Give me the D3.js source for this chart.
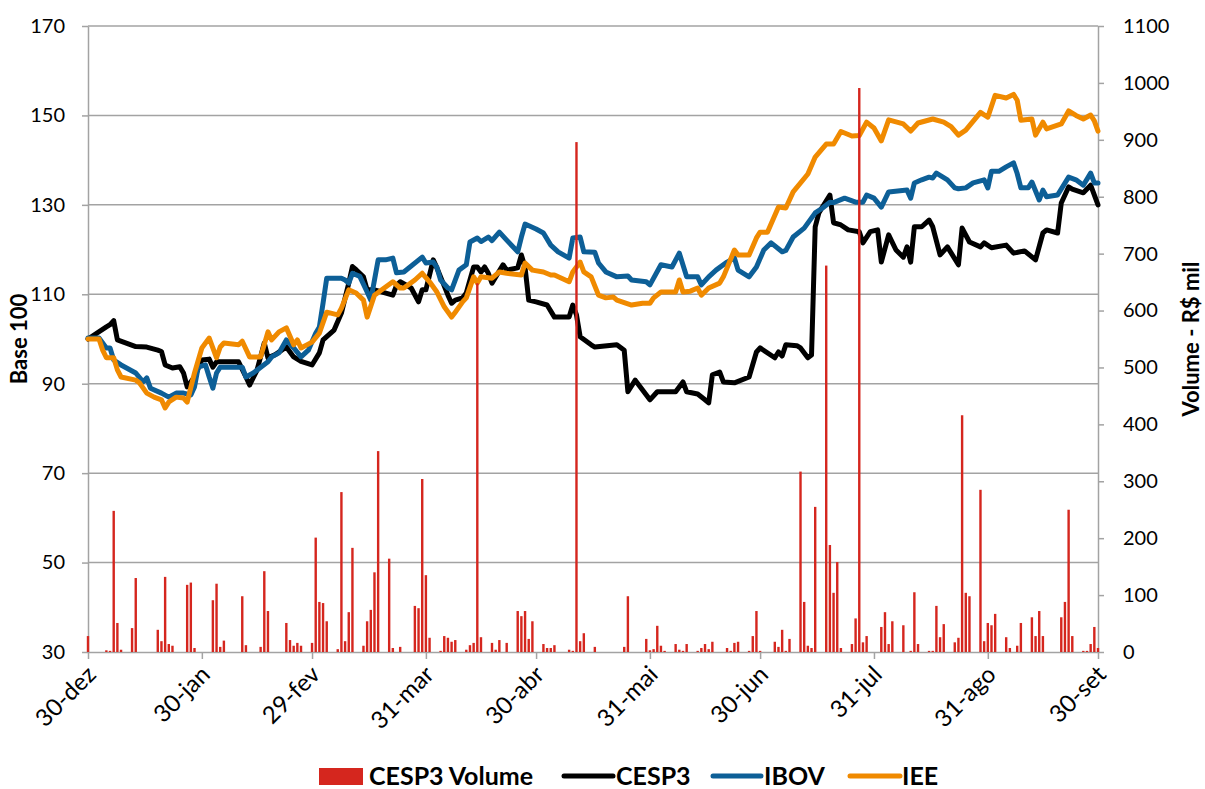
<!DOCTYPE html>
<html><head><meta charset="utf-8">
<script src="https://cdn.jsdelivr.net/npm/d3@7"></script>
<style>
body{margin:0;background:#fff;}
text{font-family:Lato,"Liberation Sans",sans-serif;}
</style>
</head><body>
<svg id="chart" width="1205" height="789"></svg>
<script>
// ---------- DATA ----------
const startDate = "2015-12-30";
const endDate = "2016-09-30";
const xTickDates = ["2015-12-30","2016-01-30","2016-02-29","2016-03-31","2016-04-30","2016-05-31","2016-06-30","2016-07-31","2016-08-31","2016-09-30"];
const xTickLabels = ["30-dez","30-jan","29-fev","31-mar","30-abr","31-mai","30-jun","31-jul","31-ago","30-set"];
const leftTicks = [30,50,70,90,110,130,150,170];
const rightTicks = [0,100,200,300,400,500,600,700,800,900,1000,1100];
const seriesNames = ["CESP3 Volume","CESP3","IBOV","IEE"];

// [days after 30-dez-2015, R$ mil]
const cesp3Volume = [[0,28],[5,3],[6,2],[7,248],[8,51],[9,4],[12,42],[13,130],[19,39],[20,19],[21,132],[22,14],[23,11],[27,118],[28,122],[29,7],[34,91],[35,120],[36,9],[37,20],[42,98],[43,12],[47,9],[48,142],[49,72],[54,51],[55,21],[56,11],[57,16],[58,11],[61,16],[62,201],[63,88],[64,86],[65,54],[68,5],[69,281],[70,19],[71,70],[72,183],[75,11],[76,54],[77,74],[78,140],[79,353],[82,164],[83,7],[85,9],[89,81],[90,77],[91,304],[92,135],[93,25],[96,2],[97,28],[98,25],[99,18],[100,21],[103,4],[104,12],[105,16],[106,648],[107,26],[110,16],[111,4],[112,21],[114,16],[117,72],[118,63],[119,72],[120,23],[121,54],[124,14],[125,7],[126,7],[127,12],[131,4],[132,2],[133,896],[134,19],[135,33],[138,9],[146,9],[147,98],[152,23],[153,3],[154,5],[155,46],[156,11],[157,2],[160,14],[161,4],[162,2],[163,14],[166,2],[167,7],[168,14],[169,5],[170,18],[174,7],[175,2],[176,16],[177,18],[180,2],[181,28],[182,72],[183,2],[187,18],[188,9],[189,39],[190,2],[191,23],[194,317],[195,88],[196,11],[197,7],[198,255],[201,679],[202,188],[203,104],[204,158],[205,7],[208,14],[209,59],[210,991],[211,17],[212,28],[216,44],[217,70],[218,14],[219,54],[222,47],[224,2],[225,105],[226,14],[229,2],[230,2],[231,81],[232,26],[233,49],[236,17],[237,25],[238,416],[239,104],[240,98],[243,285],[244,19],[245,51],[246,47],[247,67],[250,26],[251,7],[253,11],[254,51],[257,61],[258,28],[259,72],[260,28],[265,61],[266,88],[267,250],[268,28],[271,2],[272,2],[273,14],[274,44],[275,7]];

// [days after 30-dez-2015, base 100]
const cesp3 = [[0,100],[5,102.7],[6,103.2],[7,104.1],[8,99.8],[13,98.3],[16,98.2],[19,97.5],[20,97.2],[21,94.2],[23,93.5],[25,93.8],[26,92.4],[27,89.3],[29,91.5],[31,95.3],[33,95.5],[34,93.7],[35,94.9],[41,94.9],[43,91.5],[44,89.7],[46,93],[48,99.1],[49,95.8],[51,96.5],[54,98.2],[56,96],[58,95],[61,94.2],[63,96.9],[64,99.8],[67,102],[69,105.8],[71,112.5],[72,116.2],[73,115.5],[75,113.9],[76,111],[78,111],[83,109.8],[84,112],[85,112.8],[88,111.4],[90,108.3],[91,111],[92,111],[94,117.7],[95,115.9],[98,109.8],[99,108],[100,108.7],[102,109.2],[103,110.3],[105,116.1],[106,116.1],[107,115],[108,116.1],[109,114.7],[110,112.5],[113,116.6],[114,115.4],[117,115.9],[118,118.8],[119,116],[120,108.7],[122,108.3],[125,107.6],[127,104.9],[131,104.9],[132,107.6],[133,105.4],[134,100.5],[137,98.7],[138,98.2],[144,98.7],[146,97.5],[147,88.2],[149,90.8],[151,88.6],[153,86.4],[155,88.2],[160,88.2],[162,90.4],[163,88.2],[166,87.7],[168,86.4],[169,85.7],[170,92],[172,92.6],[173,90.4],[176,90.2],[180,91.5],[182,97.1],[183,98],[187,95.8],[188,97.1],[189,96.2],[190,98.7],[193,98.5],[194,98],[196,95.8],[197,96.4],[198,125.1],[199,128.2],[202,132.2],[203,126],[205,125.5],[207,124.4],[210,124],[211,121.5],[213,124],[215,124.4],[216,117.2],[218,123.3],[220,119.9],[222,118.3],[223,120.6],[224,117.2],[225,125.1],[227,125.1],[229,126.6],[230,125.1],[232,118.8],[234,120.6],[237,116.6],[238,124.8],[240,121.7],[243,120.6],[244,121.5],[246,120.4],[250,121],[252,119.2],[255,119.7],[258,117.7],[260,123.7],[261,124.4],[264,123.7],[265,130.4],[267,134],[268,133.5],[271,132.7],[273,134.4],[275,130]];

const ibov = [[0,100.2],[3,100.2],[5,98],[6,98],[7,95.3],[9,94.2],[13,92.4],[15,90.4],[16,91.3],[17,89],[20,87.9],[22,87],[24,87.9],[26,87.9],[28,87.5],[29,89.3],[30,93.7],[32,94.2],[33,91.5],[34,89],[35,92.4],[36,93.7],[42,93.7],[43,91.5],[45,92.4],[49,94.9],[50,96],[52,96.9],[54,99.8],[56,98],[58,96],[60,97.5],[62,101.3],[63,102.7],[64,108],[65,113.6],[69,113.6],[70,113.2],[71,112.5],[72,114.7],[74,114],[76,110.5],[77,108.7],[78,113.2],[79,117.7],[81,117.7],[83,118.1],[84,114.8],[86,115],[91,118.3],[92,117],[94,117.2],[95,116],[96,113.2],[98,111.4],[99,111],[101,115.4],[103,116.6],[104,121.7],[106,122.6],[107,121.8],[109,122.8],[110,122],[112,123.9],[113,123],[114,122.1],[117,119.5],[118,122.8],[119,125.7],[122,124.6],[124,123.7],[126,121],[128,119.5],[131,118.1],[132,122.6],[134,122.8],[135,119.5],[138,119.4],[139,117],[141,115],[144,113.9],[147,114.1],[148,113.2],[152,112.8],[153,112.1],[156,116.6],[159,116.1],[161,119.2],[163,113.9],[166,113.9],[167,112.1],[169,113.9],[171,115.4],[174,117.2],[176,118.1],[177,115.4],[180,113.9],[182,116.1],[184,119.9],[186,121.5],[189,119.5],[190,119.8],[192,122.8],[195,124.8],[198,128.2],[200,129.3],[202,130.6],[203,130.5],[206,131.5],[209,130.6],[211,130.6],[212,132.2],[214,131.5],[216,129.5],[218,132.9],[223,133.3],[224,131.5],[225,134.9],[227,135.6],[229,136.2],[230,136],[231,137.1],[234,135.6],[236,133.8],[237,133.6],[239,133.8],[241,134.9],[244,135.6],[245,133.8],[246,137.5],[248,137.5],[250,138.5],[252,139.4],[253,137],[254,133.8],[256,133.8],[257,135.1],[259,131.1],[260,133.3],[261,131.8],[264,132.2],[267,136.2],[269,135.6],[271,134.4],[273,137.1],[274,134.9],[275,134.9]];

const iee = [[0,100],[3,100],[4,97.5],[5,95.8],[7,95.8],[8,93.1],[9,91.5],[13,90.8],[14,90.2],[16,87.9],[18,87],[20,86.4],[21,84.6],[22,85.9],[24,87],[26,86.8],[27,85.9],[29,92.4],[31,98],[33,100.2],[35,95.8],[36,98.2],[37,99.1],[41,98.7],[42,99.5],[44,96],[47,96],[49,101.6],[50,99.8],[52,101.6],[54,102.5],[56,98.7],[57,99.8],[58,98],[61,99.3],[63,101.3],[65,106],[68,105.4],[69,106.9],[71,111],[73,110.3],[75,108.7],[76,104.9],[78,109.8],[80,111],[83,112.8],[85,111.4],[86,111.4],[89,113.2],[91,114.7],[93,112.8],[95,110.5],[97,107.2],[99,104.9],[100,106],[102,108.3],[103,109.2],[105,113.9],[106,112.5],[107,113.9],[110,113.6],[112,115],[114,114.7],[118,114.3],[119,117],[121,115.4],[124,115],[126,114.3],[127,114.3],[131,112.8],[132,115],[134,117.2],[135,115],[137,113.9],[139,109.8],[141,109.2],[143,109.4],[144,108.7],[148,107.6],[151,108],[153,108],[154,109.2],[156,110.5],[160,110.5],[161,113.2],[162,110.5],[164,110.7],[166,111.4],[167,109.8],[169,111.4],[172,112.5],[173,113.9],[176,119.9],[177,118.8],[180,118.8],[182,122.6],[183,123.9],[185,123.9],[188,129.5],[190,129.3],[192,132.9],[196,136.9],[198,140.7],[201,143.6],[203,143.6],[205,146.4],[208,145.4],[210,145.5],[212,148.5],[214,147.2],[216,144.3],[218,149],[222,148.1],[224,146.5],[226,148.3],[230,149.2],[233,148.5],[235,147.5],[237,145.6],[239,146.7],[243,150.7],[245,149.6],[247,154.5],[250,153.9],[252,154.7],[253,153.4],[254,148.9],[257,149.2],[258,145.6],[260,148.5],[261,147],[265,148.1],[267,151],[269,150],[271,149.2],[273,150.1],[274,148.8],[275,146.5]];

// ---------- DRAW ----------
const parse = d3.utcParse("%Y-%m-%d");
const t0 = parse(startDate), t1 = parse(endDate);
const dayToDate = d => d3.utcDay.offset(t0, d);

const M = {left: 88, right: 1098, top: 26, bottom: 652};
const svg = d3.select("#chart");
const x = d3.scaleUtc().domain([t0, t1]).range([M.left, M.right]);
const yL = d3.scaleLinear().domain([30, 170]).range([M.bottom, M.top]);
const yR = d3.scaleLinear().domain([0, 1100]).range([M.bottom, M.top]);

const gridColor = "#A3A3A3";
const colors = {vol: "#D5261E", cesp3: "#000000", ibov: "#0D5F97", iee: "#F08A00"};

// gridlines
svg.append("g").selectAll("line").data(leftTicks.filter(v => v !== 30)).join("line")
  .attr("x1", M.left).attr("x2", M.right)
  .attr("y1", d => yL(d)).attr("y2", d => yL(d))
  .attr("stroke", gridColor).attr("stroke-width", 1.5);

function styleAxis(g) {
  g.selectAll(".domain").attr("stroke", gridColor).attr("stroke-width", 1.5);
  g.selectAll(".tick line").attr("stroke", gridColor).attr("stroke-width", 1.5);
  g.selectAll("text").attr("fill", "#000").style("font-size", "20px").style("font-family", "Lato, 'Liberation Sans', sans-serif");
}

// left axis
svg.append("g").attr("transform", `translate(${M.left},0)`)
  .call(d3.axisLeft(yL).tickValues(leftTicks).tickSize(6).tickSizeOuter(0).tickPadding(17))
  .call(styleAxis);

// right axis
svg.append("g").attr("transform", `translate(${M.right},0)`)
  .call(d3.axisRight(yR).tickValues(rightTicks).tickFormat(d3.format("d")).tickSize(6).tickSizeOuter(0).tickPadding(19))
  .call(styleAxis);

// bottom axis
const gx = svg.append("g").attr("transform", `translate(0,${M.bottom})`)
  .call(d3.axisBottom(x).tickValues(xTickDates.map(parse)).tickFormat((d, i) => xTickLabels[i]).tickSize(7).tickSizeOuter(0))
  .call(styleAxis);
gx.selectAll(".tick text")
  .attr("x", 0).attr("y", 0).attr("dy", 0)
  .attr("transform", "translate(9,24) rotate(-45)")
  .style("text-anchor", "end").style("font-size", "24px");

// lines
const line = d3.line().x(d => x(dayToDate(d[0]))).y(d => yL(d[1]));
[[cesp3, colors.cesp3], [ibov, colors.ibov], [iee, colors.iee]].forEach(([data, c]) => {
  svg.append("path").datum(data)
    .attr("d", line).attr("fill", "none").attr("stroke", c)
    .attr("stroke-width", 5).attr("stroke-linejoin", "round").attr("stroke-linecap", "round");
});

// volume bars (secondary axis)
const bw = 2.4;
svg.append("g").selectAll("rect").data(cesp3Volume).join("rect")
  .attr("x", d => x(dayToDate(d[0])) - bw / 2)
  .attr("width", bw)
  .attr("y", d => yR(d[1]))
  .attr("height", d => M.bottom - yR(d[1]))
  .attr("fill", colors.vol);

// axis titles
svg.append("text").attr("transform", `translate(27,${(M.top + M.bottom) / 2}) rotate(-90)`)
  .attr("text-anchor", "middle").style("font-size", "22px").style("font-weight", "bold").text("Base 100");
svg.append("text").attr("transform", `translate(1199,${(M.top + M.bottom) / 2}) rotate(-90)`)
  .attr("text-anchor", "middle").style("font-size", "22px").style("font-weight", "bold").text("Volume - R$ mil");

// legend
const lg = svg.append("g");
const ly = 776;
lg.append("rect").attr("x", 319).attr("y", 768).attr("width", 44).attr("height", 17).attr("fill", colors.vol);
lg.append("text").attr("x", 369).attr("y", ly).attr("dy", "0.36em").style("font-size", "25px").style("font-weight", "bold").text(seriesNames[0]);
const li = [[564, 613, 616, colors.cesp3, seriesNames[1]], [713, 761, 764, colors.ibov, seriesNames[2]], [850, 900, 902, colors.iee, seriesNames[3]]];
li.forEach(([a, b, tx, c, name]) => {
  lg.append("line").attr("x1", a).attr("x2", b).attr("y1", ly).attr("y2", ly)
    .attr("stroke", c).attr("stroke-width", 5).attr("stroke-linecap", "round");
  lg.append("text").attr("x", tx).attr("y", ly).attr("dy", "0.36em").style("font-size", "25px").style("font-weight", "bold").text(name);
});
</script>
</body></html>
